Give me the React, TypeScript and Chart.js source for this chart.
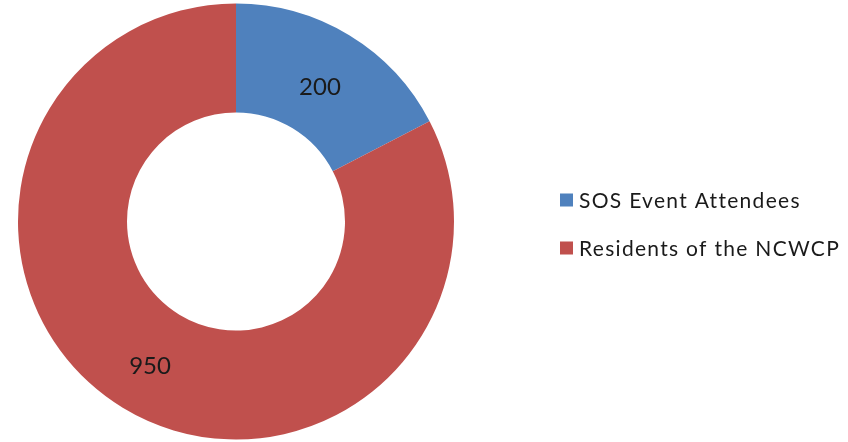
import React, { useEffect, useRef } from "react";
import { Chart, registerables } from "chart.js";

Chart.register(...registerables);

const categories: string[] = ["SOS Event Attendees", "Residents of the NCWCP"];
const values: number[] = [200, 950];
const colors: string[] = ["#4F81BD", "#C0504D"];

const FONT = "Lato, 'Open Sans', sans-serif";

const overlayPlugin = {
  id: "overlay",
  afterDatasetsDraw(chart: any) {
    const ctx = chart.ctx as CanvasRenderingContext2D;
    const meta = chart.getDatasetMeta(0);
    ctx.save();
    // slice value labels
    ctx.font = `24px ${FONT}`;
    ctx.fillStyle = "#1a1a1a";
    ctx.textAlign = "center";
    ctx.textBaseline = "middle";
    meta.data.forEach((arc: any, i: number) => {
      const p = arc.getProps(["x", "y", "startAngle", "endAngle", "innerRadius", "outerRadius"], true);
      const mid = (p.startAngle + p.endAngle) / 2;
      const r = (p.innerRadius + p.outerRadius) / 2;
      ctx.fillText(String(chart.data.datasets[0].data[i]), p.x + Math.cos(mid) * r - 1, p.y + Math.sin(mid) * r + 5);
    });
    // legend
    const lx = 560;
    const rows = [200, 248];
    ctx.textAlign = "left";
    ctx.textBaseline = "alphabetic";
    ctx.font = `21px ${FONT}`;
    (ctx as any).letterSpacing = "1.3px";
    chart.data.labels.forEach((label: string, i: number) => {
      const cy = rows[i];
      ctx.fillStyle = chart.data.datasets[0].backgroundColor[i];
      ctx.fillRect(lx, cy - 6.5, 13, 13);
      ctx.fillStyle = "#1a1a1a";
      ctx.fillText(label, 579, cy + 8);
    });
    ctx.restore();
  },
};

export default function App() {
  const ref = useRef<HTMLCanvasElement | null>(null);
  useEffect(() => {
    if (!ref.current) return;
    const chart = new Chart(ref.current, {
      type: "doughnut",
      data: {
        labels: categories,
        datasets: [
          {
            data: values,
            backgroundColor: colors,
            borderWidth: 0,
          },
        ],
      },
      options: {
        responsive: false,
        animation: false,
        cutout: "50%",
        layout: { padding: { left: 18, top: 3.5, right: 394, bottom: 2.5 } },
        plugins: {
          legend: { display: false },
          tooltip: { enabled: false },
        },
      },
      plugins: [overlayPlugin],
    });
    return () => chart.destroy();
  }, []);
  return (
    <div style={{ position: "fixed", left: 0, top: 0, width: 848, height: 442, background: "#fff" }}>
      <canvas ref={ref} width={848} height={442} />
    </div>
  );
}
